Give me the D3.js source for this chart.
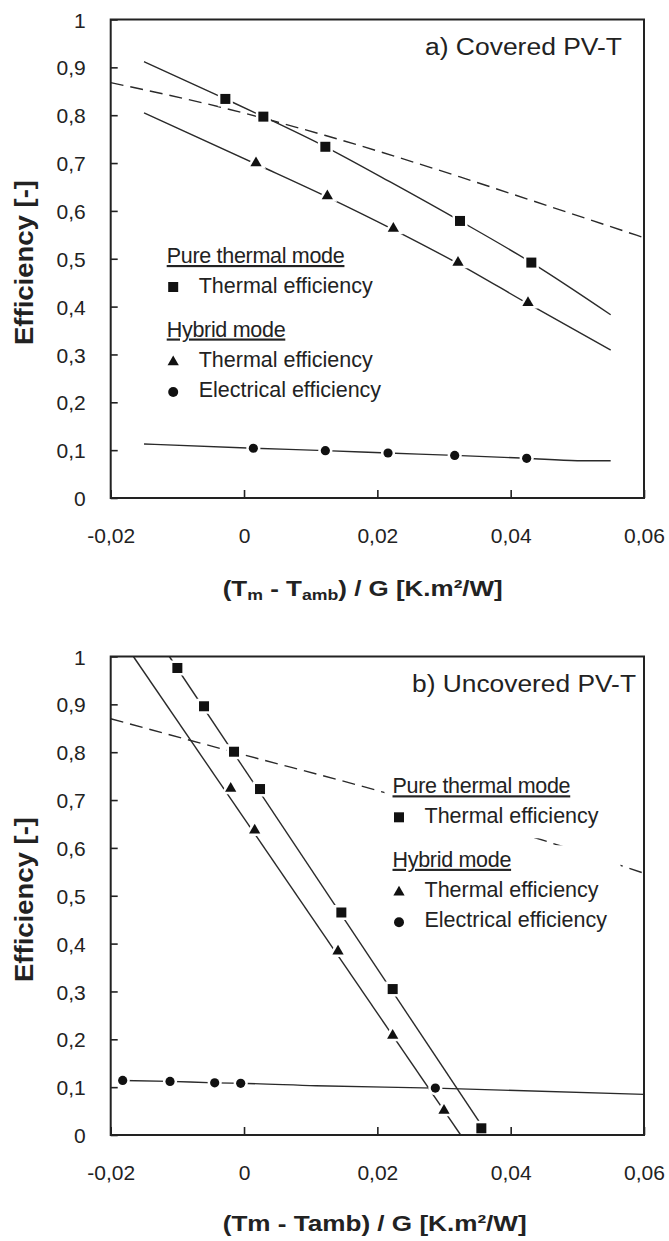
<!DOCTYPE html>
<html>
<head>
<meta charset="utf-8">
<script src="https://cdn.jsdelivr.net/npm/d3@7"></script>
<style>
  body { margin: 0; background: #fff; }
  svg { display: block; font-family: Arial, "Liberation Sans", sans-serif; }
</style>
</head>
<body>
<div id="chart"></div>
<script>
// shared axis ticks
const xTicks = [-0.02, 0, 0.02, 0.04, 0.06];
const xTickLabels = ["-0,02", "0", "0,02", "0,04", "0,06"];
const yTicks = [0, 0.1, 0.2, 0.3, 0.4, 0.5, 0.6, 0.7, 0.8, 0.9, 1];
const yTickLabels = ["0", "0,1", "0,2", "0,3", "0,4", "0,5", "0,6", "0,7", "0,8", "0,9", "1"];

const legendHeaders = ["Pure thermal mode", "Hybrid mode"];
const legendItems = ["Thermal efficiency", "Thermal efficiency", "Electrical efficiency"];

// a) covered PV-T -- measured points
const aPureX = [-0.0028, 0.0029, 0.0122, 0.0324, 0.0431];
const aPureY = [0.834, 0.797, 0.734, 0.579, 0.492];
const aHybX = [0.0018, 0.0125, 0.0224, 0.0321, 0.0426];
const aHybY = [0.698, 0.629, 0.561, 0.490, 0.406];
const aElecX = [0.0014, 0.0122, 0.0216, 0.0316, 0.0424];
const aElecY = [0.104, 0.099, 0.094, 0.089, 0.083];
// a) fitted curves
const aPureFitX = [-0.015, -0.0028, 0.0029, 0.0122, 0.022, 0.0324, 0.0431, 0.055];
const aPureFitY = [0.912, 0.834, 0.797, 0.734, 0.660, 0.579, 0.492, 0.383];
const aHybFitX = [-0.015, 0.0018, 0.0125, 0.0224, 0.0321, 0.0426, 0.055];
const aHybFitY = [0.805, 0.698, 0.629, 0.561, 0.490, 0.406, 0.309];
const aElecFitX = [-0.015, 0.0014, 0.0122, 0.0216, 0.0316, 0.0424, 0.05, 0.055];
const aElecFitY = [0.113, 0.104, 0.099, 0.094, 0.089, 0.083, 0.078, 0.078];
const aRefX = [-0.02, -0.003, 0.0121, 0.0324, 0.0431, 0.06];
const aRefY = [0.868, 0.815, 0.758, 0.671, 0.622, 0.544];

// b) uncovered PV-T -- measured points
const bPureX = [-0.0100, -0.0060, -0.0015, 0.0024, 0.0146, 0.0223, 0.0356];
const bPureY = [0.976, 0.896, 0.801, 0.723, 0.465, 0.305, 0.014];
const bHybX = [-0.0020, 0.0016, 0.0141, 0.0223, 0.0300];
const bHybY = [0.722, 0.635, 0.382, 0.206, 0.049];
const bElecX = [-0.0182, -0.0111, -0.0044, -0.0005, 0.0287];
const bElecY = [0.114, 0.112, 0.109, 0.108, 0.098];
// b) fitted curves
const bPureFitX = [-0.0112, 0.0366];
const bPureFitY = [1.0, 0.0];
const bHybFitX = [-0.0166, 0.0325];
const bHybFitY = [1.0, 0.0];
const bElecFitX = [-0.0182, -0.0111, -0.0044, -0.0005, 0.0108, 0.0287, 0.06];
const bElecFitY = [0.114, 0.112, 0.109, 0.108, 0.103, 0.098, 0.085];
const bRefX = [-0.02, -0.0015, 0.021, 0.0453, 0.06];
const bRefY = [0.870, 0.800, 0.716, 0.614, 0.547];

const width = 669, height = 1241;
const ink = "#222";

const svg = d3.select("#chart").append("svg")
    .attr("width", width)
    .attr("height", height)
    .attr("viewBox", [0, 0, width, height]);

const zip = (xs, ys) => xs.map((x, i) => ({ x: x, y: ys[i] }));

function panel(cfg) {
    const margin = { left: 110.7, right: 644, top: cfg.top, bottom: cfg.top + 478.5 };

    const x = d3.scaleLinear().domain([-0.02, 0.06]).range([margin.left, margin.right]);
    const y = d3.scaleLinear().domain([0, 1]).range([margin.bottom, margin.top]);

    const g = svg.append("g");

    g.append("clipPath").attr("id", cfg.id + "-clip")
        .append("rect")
        .attr("x", margin.left).attr("y", margin.top)
        .attr("width", margin.right - margin.left)
        .attr("height", margin.bottom - margin.top);

    // tick labels
    const yAxis = g.append("g")
        .attr("transform", `translate(${margin.left},0)`)
        .call(d3.axisLeft(y).tickValues(yTicks).tickSize(-7).tickPadding(25)
            .tickFormat((d, i) => yTickLabels[i]));
    const xAxis = g.append("g")
        .attr("transform", `translate(0,${margin.bottom})`)
        .call(d3.axisBottom(x).tickValues(xTicks).tickSize(-8).tickPadding(30)
            .tickFormat((d, i) => xTickLabels[i]));

    for (const ax of [yAxis, xAxis]) {
        ax.select(".domain").remove();
        ax.selectAll(".tick line").attr("stroke", ink).attr("stroke-width", 1.6);
        ax.selectAll(".tick text")
            .attr("fill", ink)
            .style("font-size", "21px")
            .style("font-family", "Arial, 'Liberation Sans', sans-serif");
    }
    yAxis.selectAll(".tick text").attr("dy", "0.36em");
    xAxis.selectAll(".tick text").attr("dy", "0.72em");

    // curves
    const line = d3.line().x(d => x(d.x)).y(d => y(d.y)).curve(d3.curveMonotoneX);
    const curves = g.append("g").attr("clip-path", `url(#${cfg.id}-clip)`)
        .attr("fill", "none").attr("stroke", "#2a2a2a").attr("stroke-width", 1.4);

    curves.append("path").datum(zip(cfg.refX, cfg.refY))
        .attr("stroke-dasharray", "13,7").attr("d", line);
    curves.append("path").datum(zip(cfg.pureFitX, cfg.pureFitY)).attr("d", line);
    curves.append("path").datum(zip(cfg.hybFitX, cfg.hybFitY)).attr("d", line);
    curves.append("path").datum(zip(cfg.elecFitX, cfg.elecFitY)).attr("d", line);

    // markers with a white halo
    const halo = sel => sel.attr("fill", "#111").attr("stroke", "#fff")
        .attr("stroke-width", 5).attr("paint-order", "stroke");

    g.append("g").selectAll("rect")
        .data(zip(cfg.pureX, cfg.pureY))
        .join("rect")
        .attr("x", d => x(d.x) - 5).attr("y", d => y(d.y) - 5)
        .attr("width", 10).attr("height", 10)
        .call(halo);

    const tri = d3.symbol().type(d3.symbolTriangle).size(55);
    g.append("g").selectAll("path")
        .data(zip(cfg.hybX, cfg.hybY))
        .join("path")
        .attr("transform", d => `translate(${x(d.x)},${y(d.y) - 1})`)
        .attr("d", tri)
        .call(halo);

    g.append("g").selectAll("circle")
        .data(zip(cfg.elecX, cfg.elecY))
        .join("circle")
        .attr("cx", d => x(d.x)).attr("cy", d => y(d.y))
        .attr("r", 4.6)
        .call(halo);

    // frame
    g.append("rect")
        .attr("x", margin.left).attr("y", margin.top)
        .attr("width", margin.right - margin.left)
        .attr("height", margin.bottom - margin.top)
        .attr("fill", "none").attr("stroke", ink).attr("stroke-width", 2);

    // legend
    const lg = g.append("g").attr("transform", `translate(${cfg.legend[0]},${cfg.legend[1]})`)
        .style("font-size", "21.5px").attr("fill", ink);
    lg.append("rect").attr("x", -8).attr("y", -22).attr("width", 224).attr("height", 67)
        .attr("fill", "#fff");
    lg.append("rect").attr("x", -8).attr("y", 52).attr("width", 236).attr("height", 88)
        .attr("fill", "#fff");
    lg.selectAll("text.hdr")
        .data(legendHeaders)
        .join("text")
        .attr("class", "hdr")
        .attr("x", 0)
        .attr("y", (d, i) => i === 0 ? 0 : 73.5)
        .style("text-decoration", "underline")
        .style("letter-spacing", "-0.3px")
        .text(d => d);
    lg.selectAll("text.item")
        .data(legendItems)
        .join("text")
        .attr("class", "item")
        .attr("x", 32)
        .attr("y", (d, i) => [29.5, 104, 134][i])
        .text(d => d);
    lg.append("rect").attr("x", 1.5).attr("y", 19).attr("width", 10).attr("height", 10).attr("fill", "#111");
    lg.append("path").attr("transform", "translate(6.5,99)").attr("d", tri).attr("fill", "#111");
    lg.append("circle").attr("cx", 6.5).attr("cy", 129).attr("r", 5).attr("fill", "#111");

    // panel title
    g.append("text")
        .attr("x", cfg.titleEnd).attr("y", margin.top + 35.5)
        .attr("text-anchor", "end")
        .attr("fill", ink)
        .style("font-size", "23px")
        .attr("textLength", cfg.titleLen).attr("lengthAdjust", "spacingAndGlyphs")
        .text(cfg.title);

    // y title
    g.append("text")
        .attr("transform", `translate(33,${margin.top + 243}) rotate(-90)`)
        .attr("text-anchor", "middle")
        .attr("fill", ink)
        .style("font-size", "25px").style("font-weight", "bold")
        .attr("textLength", 165).attr("lengthAdjust", "spacingAndGlyphs")
        .text("Efficiency [-]");

    // x title
    const xt = g.append("text")
        .attr("x", 222.7).attr("y", margin.top + cfg.xTitleDy)
        .attr("fill", ink)
        .style("font-size", "22px").style("font-weight", "bold")
        .attr("textLength", cfg.xTitleLen).attr("lengthAdjust", "spacingAndGlyphs");
    for (const part of cfg.xTitle) {
        const t = xt.append("tspan").text(part[0]);
        if (part[1]) t.style("font-size", "15px").attr("baseline-shift", "-25%");
    }
}

panel({
    id: "a", top: 19.5,
    title: "a) Covered PV-T", titleEnd: 622, titleLen: 197,
    legend: [166.7, 263],
    xTitle: [["(T"], ["m", true], [" - T"], ["amb", true], [") / G [K.m²/W]"]],
    xTitleDy: 576.5, xTitleLen: 280,
    pureX: aPureX, pureY: aPureY, hybX: aHybX, hybY: aHybY, elecX: aElecX, elecY: aElecY,
    pureFitX: aPureFitX, pureFitY: aPureFitY, hybFitX: aHybFitX, hybFitY: aHybFitY,
    elecFitX: aElecFitX, elecFitY: aElecFitY, refX: aRefX, refY: aRefY
});

panel({
    id: "b", top: 656.5,
    title: "b) Uncovered PV-T", titleEnd: 636, titleLen: 224,
    legend: [392.5, 793.3],
    xTitle: [["(Tm - Tamb) / G [K.m²/W]"]],
    xTitleDy: 574.5, xTitleLen: 304,
    pureX: bPureX, pureY: bPureY, hybX: bHybX, hybY: bHybY, elecX: bElecX, elecY: bElecY,
    pureFitX: bPureFitX, pureFitY: bPureFitY, hybFitX: bHybFitX, hybFitY: bHybFitY,
    elecFitX: bElecFitX, elecFitY: bElecFitY, refX: bRefX, refY: bRefY
});
</script>
</body>
</html>
